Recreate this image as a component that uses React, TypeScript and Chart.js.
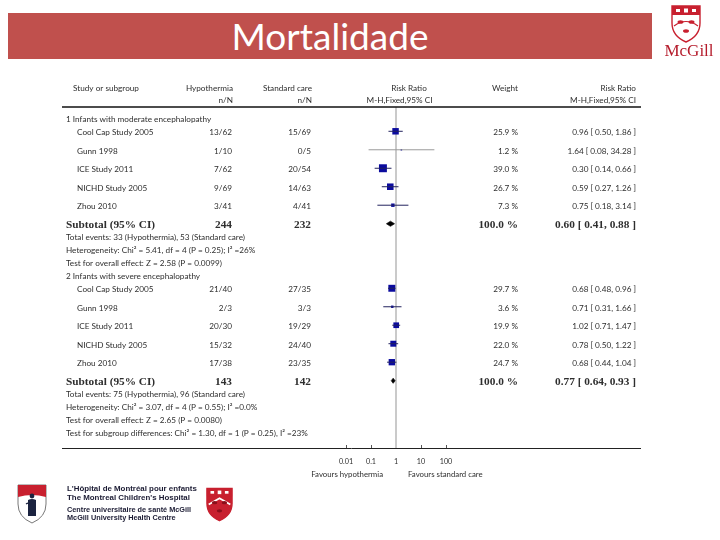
import React, { useEffect, useRef } from "react";
import { Chart, registerables } from "chart.js";

Chart.register(...registerables);

// ---------------- data ----------------
const titleText = "Mortalidade";

const headerTop = ["Study or subgroup", "Hypothermia", "Standard care", "Risk Ratio", "Weight", "Risk Ratio"];
const headerBottom = ["", "n/N", "n/N", "M-H,Fixed,95% CI", "", "M-H,Fixed,95% CI"];

const studyNames = ["Cool Cap Study 2005", "Gunn 1998", "ICE Study 2011", "NICHD Study 2005", "Zhou 2010"];
const groupLabels = ["1 Infants with moderate encephalopathy", "2 Infants with severe encephalopathy"];

// subgroup 1: moderate encephalopathy
const hypoEvents1 = ["13/62", "1/10", "7/62", "9/69", "3/41"];
const stdEvents1 = ["15/69", "0/5", "20/54", "14/63", "4/41"];
const rr1 = [0.96, 1.64, 0.3, 0.59, 0.75];
const lo1 = [0.5, 0.08, 0.14, 0.27, 0.18];
const hi1 = [1.86, 34.28, 0.66, 1.26, 3.14];
const weight1 = [25.9, 1.2, 39.0, 26.7, 7.3];

// subgroup 2: severe encephalopathy
const hypoEvents2 = ["21/40", "2/3", "20/30", "15/32", "17/38"];
const stdEvents2 = ["27/35", "3/3", "19/29", "24/40", "23/35"];
const rr2 = [0.68, 0.71, 1.02, 0.78, 0.68];
const lo2 = [0.48, 0.31, 0.71, 0.5, 0.44];
const hi2 = [0.96, 1.66, 1.47, 1.22, 1.04];
const weight2 = [29.7, 3.6, 19.9, 22.0, 24.7];

// subtotals
const subtotalHypoN = ["244", "143"];
const subtotalStdN = ["232", "142"];
const subtotalRR = [0.6, 0.77];
const subtotalLo = [0.41, 0.64];
const subtotalHi = [0.88, 0.93];
const subtotalWeight = [100.0, 100.0];

const notes1 = [
  "Total events: 33 (Hypothermia), 53 (Standard care)",
  "Heterogeneity: Chi² = 5.41, df = 4 (P = 0.25); I² =26%",
  "Test for overall effect: Z = 2.58 (P = 0.0099)",
];
const notes2 = [
  "Total events: 75 (Hypothermia), 96 (Standard care)",
  "Heterogeneity: Chi² = 3.07, df = 4 (P = 0.55); I² =0.0%",
  "Test for overall effect: Z = 2.65 (P = 0.0080)",
];
const overallNotes = ["Test for subgroup differences: Chi² = 1.30, df = 1 (P = 0.25), I² =23%"];

const tickValues = [0.01, 0.1, 1, 10, 100];
const tickLabels = ["0.01", "0.1", "1", "10", "100"];
const favourLabels = ["Favours hypothermia", "Favours standard care"];

// ---------------- table built from arrays ----------------
const groups = [
  { label: groupLabels[0], hypo: hypoEvents1, std: stdEvents1, rr: rr1, lo: lo1, hi: hi1, w: weight1, notes: notes1 },
  { label: groupLabels[1], hypo: hypoEvents2, std: stdEvents2, rr: rr2, lo: lo2, hi: hi2, w: weight2, notes: notes2 },
];

type Row = { kind: string; y: number; g: number; i: number; text?: string };

function buildRows() {
  const rows: Row[] = [];
  let y = 0;
  groups.forEach((grp, g) => {
    y += g === 0 ? 0.92 : 1.0;
    rows.push({ kind: "group", y, g, i: -1, text: grp.label });
    studyNames.forEach((_, i) => {
      y += i === 0 ? 0.94 : 1.415;
      rows.push({ kind: "study", y, g, i });
    });
    y += 1.42;
    rows.push({ kind: "subtotal", y, g, i: -1 });
    grp.notes.forEach((t) => {
      y += 1.0;
      rows.push({ kind: "note", y, g, i: -1, text: t });
    });
  });
  overallNotes.forEach((t) => {
    y += 1.0;
    rows.push({ kind: "note", y, g: -1, i: -1, text: t });
  });
  return { rows, yMax: y + 1.15 };
}

const fmt = (v: number) => v.toFixed(2);
const ciText = (r: number, l: number, h: number) => `${fmt(r)} [ ${fmt(l)}, ${fmt(h)} ]`;

// column anchors (px)
const COL = { group: 66, name: 77, hypo: 232, std: 311, plotHeadA: 409, plotHeadB: 399.5, weight: 518, rr: 636 };
const SMALL = '8.2px Lato, "Open Sans", sans-serif';
const BOLD = 'bold 11.3px "Liberation Serif", "DejaVu Serif", serif';
const TXT = "#2e2e2e";

function makeConfig() {
  const { rows, yMax } = buildRows();
  const studyRows = rows.filter((r) => r.kind === "study");
  const subRows = rows.filter((r) => r.kind === "subtotal");

  const ciSets = studyRows.map((r) => {
    const grp = groups[r.g];
    return {
      label: "ci",
      data: [
        { x: grp.lo[r.i], y: r.y },
        { x: grp.hi[r.i], y: r.y },
      ],
      showLine: true,
      borderColor: grp.w[r.i] < 2 ? "#9a9a9a" : "#23235e",
      borderWidth: 1,
      pointRadius: 0,
      fill: false,
    };
  });

  const squares = {
    label: "squares",
    data: studyRows.map((r) => ({ x: groups[r.g].rr[r.i], y: r.y })),
    showLine: false,
    pointStyle: "rect",
    pointRadius: studyRows.map((r) => Math.max(1.1, 0.9 * Math.sqrt(groups[r.g].w[r.i]))),
    backgroundColor: "#0b0b9e",
    borderColor: "#0b0b9e",
    pointBorderWidth: 0,
  };

  const dh = 0.2;
  const diamonds: any[] = [];
  subRows.forEach((r) => {
    const g = r.g;
    diamonds.push({
      label: "dTop",
      data: [
        { x: subtotalLo[g], y: r.y },
        { x: subtotalRR[g], y: r.y - dh },
        { x: subtotalHi[g], y: r.y },
      ],
      showLine: true,
      fill: "+1",
      backgroundColor: "#000",
      borderColor: "#000",
      borderWidth: 0.6,
      pointRadius: 0,
      tension: 0,
    });
    diamonds.push({
      label: "dBottom",
      data: [
        { x: subtotalLo[g], y: r.y },
        { x: subtotalRR[g], y: r.y + dh },
        { x: subtotalHi[g], y: r.y },
      ],
      showLine: true,
      fill: false,
      backgroundColor: "#000",
      borderColor: "#000",
      borderWidth: 0.6,
      pointRadius: 0,
      tension: 0,
    });
  });

  const forestPlugin = {
    id: "forestPlugin",
    beforeDatasetsDraw(chart: any) {
      const { ctx, chartArea, scales } = chart;
      const x1 = scales.x.getPixelForValue(1);
      ctx.save();
      ctx.strokeStyle = "#b9b9b9";
      ctx.lineWidth = 1.5;
      ctx.beginPath();
      ctx.moveTo(x1, chartArea.top);
      ctx.lineTo(x1, chartArea.bottom);
      ctx.stroke();
      ctx.restore();
    },
    afterDatasetsDraw(chart: any) {
      const { ctx, chartArea, scales } = chart;
      const xs = scales.x;
      const ys = scales.y;
      ctx.save();
      // header rule and axis line
      ctx.strokeStyle = "#111";
      ctx.lineWidth = 1.5;
      ctx.beginPath();
      ctx.moveTo(chartArea.left, chartArea.top);
      ctx.lineTo(chartArea.right, chartArea.top);
      ctx.stroke();
      ctx.lineWidth = 1;
      ctx.strokeStyle = "#222";
      ctx.beginPath();
      ctx.moveTo(chartArea.left, chartArea.bottom + 0.5);
      ctx.lineTo(chartArea.right, chartArea.bottom + 0.5);
      ctx.stroke();
      // ticks
      ctx.strokeStyle = "#555";
      tickValues.forEach((v) => {
        if (v === 1) return;
        const px = Math.round(xs.getPixelForValue(v)) + 0.5;
        ctx.beginPath();
        ctx.moveTo(px, chartArea.bottom);
        ctx.lineTo(px, chartArea.bottom - 3);
        ctx.stroke();
      });
      ctx.fillStyle = TXT;
      ctx.textBaseline = "middle";
      ctx.font = '7.2px Lato, "Open Sans", sans-serif';
      ctx.textAlign = "center";
      tickValues.forEach((v, k) => {
        ctx.fillText(tickLabels[k], xs.getPixelForValue(v), chartArea.bottom + 14);
      });
      const x1 = xs.getPixelForValue(1);
      ctx.font = '7.8px Lato, "Open Sans", sans-serif';
      ctx.textAlign = "right";
      ctx.fillText(favourLabels[0], x1 - 13, chartArea.bottom + 26);
      ctx.textAlign = "left";
      ctx.fillText(favourLabels[1], x1 + 12, chartArea.bottom + 26);

      // header
      const h1 = chartArea.top - 18.5;
      const h2 = chartArea.top - 6.5;
      ctx.font = SMALL;
      ctx.textAlign = "left";
      ctx.fillText(headerTop[0], COL.name - 4, h1);
      ctx.textAlign = "right";
      ctx.fillText(headerTop[1], COL.hypo + 1, h1);
      ctx.fillText(headerBottom[1], COL.hypo + 1, h2);
      ctx.fillText(headerTop[2], COL.std + 1, h1);
      ctx.fillText(headerBottom[2], COL.std + 1, h2);
      ctx.textAlign = "center";
      ctx.fillText(headerTop[3], COL.plotHeadA, h1);
      ctx.fillText(headerBottom[3], COL.plotHeadB, h2);
      ctx.textAlign = "right";
      ctx.fillText(headerTop[4], COL.weight, h1);
      ctx.fillText(headerTop[5], COL.rr, h1);
      ctx.fillText(headerBottom[5], COL.rr, h2);

      rows.forEach((r) => {
        const py = ys.getPixelForValue(r.y);
        if (r.kind === "group" || r.kind === "note") {
          ctx.font = SMALL;
          ctx.textAlign = "left";
          ctx.fillText(r.text, COL.group, py + 0.5);
        } else if (r.kind === "study") {
          const grp = groups[r.g];
          const ty = py + 1.2;
          ctx.font = SMALL;
          ctx.textAlign = "left";
          ctx.fillText(studyNames[r.i], COL.name, ty);
          ctx.textAlign = "right";
          ctx.fillText(grp.hypo[r.i], COL.hypo, ty);
          ctx.fillText(grp.std[r.i], COL.std, ty);
          ctx.fillText(`${grp.w[r.i].toFixed(1)} %`, COL.weight, ty);
          ctx.fillText(ciText(grp.rr[r.i], grp.lo[r.i], grp.hi[r.i]), COL.rr, ty);
        } else if (r.kind === "subtotal") {
          const g = r.g;
          const ty = py + 1.5;
          ctx.font = BOLD;
          ctx.textAlign = "left";
          ctx.fillText("Subtotal (95% CI)", COL.group, ty);
          ctx.textAlign = "right";
          ctx.fillText(subtotalHypoN[g], COL.hypo, ty);
          ctx.fillText(subtotalStdN[g], COL.std, ty);
          ctx.fillText(`${subtotalWeight[g].toFixed(1)} %`, COL.weight, ty);
          ctx.fillText(ciText(subtotalRR[g], subtotalLo[g], subtotalHi[g]), COL.rr, ty);
        }
      });
      ctx.restore();
    },
  };

  return {
    type: "scatter" as const,
    data: { datasets: [...ciSets, squares, ...diamonds] },
    options: {
      animation: false,
      responsive: false,
      maintainAspectRatio: false,
      events: [],
      layout: { padding: { left: 62, right: 79, top: 107, bottom: 92 } },
      scales: {
        x: {
          type: "logarithmic",
          display: false,
          bounds: "data",
          min: Math.pow(10, -334 / 25),
          max: Math.pow(10, 245 / 25),
        },
        y: { type: "linear", display: false, min: 0, max: yMax, reverse: true },
      },
      plugins: { legend: { display: false }, tooltip: { enabled: false } },
    },
    plugins: [forestPlugin],
  };
}

function McGillCrest({ w, h, solid }: { w: number; h: number; solid?: boolean }) {
  const red = "#c8202f";
  return (
    <svg width={w} height={h} viewBox="0 0 30 38">
      <path d="M1,1 H29 V18 Q29,31 15,37 Q1,31 1,18 Z" fill={solid ? red : "#fff"} stroke={red} strokeWidth="1.4" />
      <path d="M1,1 H29 V10 H1 Z" fill={red} />
      <rect x="5" y="4" width="4" height="3" fill="#fff" />
      <rect x="13" y="3.5" width="4" height="4" fill="#fff" />
      <rect x="21" y="4" width="4" height="3" fill="#fff" />
      {solid ? (
        <path d="M3,19 L15,12 L27,19" fill="none" stroke="#fff" strokeWidth="2" />
      ) : (
        <path d="M3,21 Q15,12 27,21" fill="none" stroke={red} strokeWidth="1.2" />
      )}
      <ellipse cx="9.5" cy="17" rx="3" ry="1.8" fill={solid ? "#8a0f1a" : red} />
      <ellipse cx="20.5" cy="17" rx="3" ry="1.8" fill={solid ? "#8a0f1a" : red} />
      <ellipse cx="15" cy="26" rx="3" ry="1.8" fill={solid ? "#8a0f1a" : red} />
    </svg>
  );
}

function ChildrenShield() {
  return (
    <svg width={30} height={40} viewBox="0 0 30 40">
      <path d="M1,1 H29 V20 Q29,33 15,39 Q1,33 1,20 Z" fill="#fff" stroke="#555" strokeWidth="0.8" />
      <path d="M1,1 H29 V13 Q15,9 1,13 Z" fill="#c8202f" />
      <circle cx="15" cy="12" r="2.4" fill="#1b2340" />
      <path d="M11,16 Q15,14 19,16 L19,32 L11,32 Z" fill="#1b2340" />
      <path d="M9,20 Q12,18 14,21" fill="none" stroke="#1b2340" strokeWidth="1.2" />
    </svg>
  );
}

export default function App() {
  const canvasRef = useRef<HTMLCanvasElement | null>(null);
  useEffect(() => {
    if (!canvasRef.current) return;
    const chart = new Chart(canvasRef.current, makeConfig() as any);
    return () => chart.destroy();
  }, []);

  return (
    <div style={{ position: "absolute", left: 0, top: 0, width: 720, height: 540, background: "#fff", overflow: "hidden" }}>
      <canvas ref={canvasRef} width={720} height={540} style={{ position: "absolute", left: 0, top: 0, width: 720, height: 540 }} />
      <div
        style={{
          position: "absolute",
          left: 8,
          top: 13,
          width: 644,
          height: 46,
          background: "#c0504d",
          color: "#fff",
          fontFamily: "Lato, 'Open Sans', sans-serif",
          fontSize: 37,
          lineHeight: "46px",
          textAlign: "center",
        }}
      >
        {titleText}
      </div>
      <div style={{ position: "absolute", left: 671, top: 5 }}>
        <McGillCrest w={30} h={38} />
      </div>
      <div
        style={{
          position: "absolute",
          left: 660,
          top: 41,
          width: 58,
          textAlign: "center",
          fontFamily: "'Liberation Serif', serif",
          fontSize: 17,
          color: "#b51c2c",
          lineHeight: "20px",
        }}
      >
        McGill
      </div>
      <div style={{ position: "absolute", left: 17, top: 484 }}>
        <ChildrenShield />
      </div>
      <div
        style={{
          position: "absolute",
          left: 67,
          top: 485,
          fontFamily: "'Liberation Sans', Arial, sans-serif",
          color: "#1b1b33",
          whiteSpace: "nowrap",
          fontWeight: "bold",
        }}
      >
        <div style={{ fontSize: 7.9, lineHeight: "8.5px" }}>L'Hôpital de Montréal pour enfants</div>
        <div style={{ fontSize: 7.9, lineHeight: "8.5px" }}>The Montreal Children's Hospital</div>
        <div style={{ fontSize: 7.3, lineHeight: "7.5px", marginTop: 4 }}>Centre universitaire de santé McGill</div>
        <div style={{ fontSize: 7.3, lineHeight: "7.5px" }}>McGill University Health Centre</div>
      </div>
      <div style={{ position: "absolute", left: 206, top: 484 }}>
        <McGillCrest w={27} h={41} solid />
      </div>
    </div>
  );
}
